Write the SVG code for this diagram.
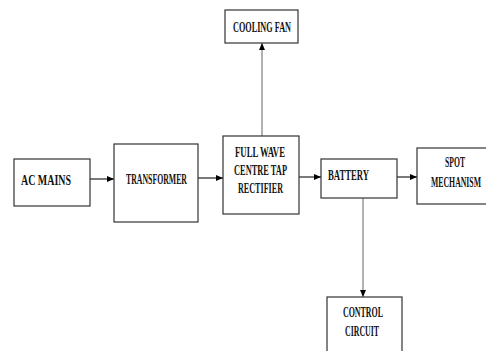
<svg xmlns="http://www.w3.org/2000/svg" width="486" height="351" viewBox="0 0 486 351">
<style>
.box{fill:#fff;stroke:#333;stroke-width:1.2}
.t{font-family:"Liberation Serif","Times New Roman",serif;font-weight:bold;fill:#111;font-size:14px}
.c{stroke:#222;stroke-width:1.2;fill:none}
.g{stroke:#999;stroke-width:1.5;fill:none}
</style>
<defs>
<marker id="ah" markerWidth="7" markerHeight="6" refX="7" refY="3" orient="auto" markerUnits="userSpaceOnUse">
<path d="M0,0 L7,3 L0,6 Z" fill="#000"/>
</marker>
</defs>
<rect width="486" height="351" fill="#fff"/>
<g id="connectors">
<line class="c" x1="90" y1="179" x2="114" y2="179" marker-end="url(#ah)"/>
<line class="c" x1="198" y1="178" x2="223" y2="178" marker-end="url(#ah)"/>
<line class="c" x1="299" y1="177" x2="321" y2="177" marker-end="url(#ah)"/>
<line class="c" x1="397" y1="177" x2="417" y2="177" marker-end="url(#ah)"/>
<line class="g" x1="262" y1="136" x2="262" y2="43" marker-end="url(#ah)"/>
<line class="g" x1="363" y1="198" x2="363" y2="297" marker-end="url(#ah)"/>
</g>
<g id="ac-mains">
<rect class="box" x="14" y="159" width="76" height="47"/>
<text class="t" x="21" y="185" font-size="19" textLength="50" lengthAdjust="spacingAndGlyphs">AC MAINS</text>
</g>
<g id="transformer">
<rect class="box" x="114" y="144" width="84" height="78"/>
<text class="t" x="126" y="184" font-size="12.5" textLength="61" lengthAdjust="spacingAndGlyphs">TRANSFORMER</text>
</g>
<g id="rectifier">
<rect class="box" x="223" y="136" width="76" height="78"/>
<text class="t" x="235" y="157" textLength="50" lengthAdjust="spacingAndGlyphs">FULL WAVE</text>
<text class="t" x="234" y="175" textLength="53" lengthAdjust="spacingAndGlyphs">CENTRE TAP</text>
<text class="t" x="238" y="193" textLength="45" lengthAdjust="spacingAndGlyphs">RECTIFIER</text>
</g>
<g id="cooling-fan">
<rect class="box" x="225" y="10" width="73" height="33"/>
<text class="t" x="233" y="32" textLength="58" lengthAdjust="spacingAndGlyphs">COOLING FAN</text>
</g>
<g id="battery">
<rect class="box" x="321" y="159" width="76" height="39"/>
<text class="t" x="328" y="180" textLength="41" lengthAdjust="spacingAndGlyphs">BATTERY</text>
</g>
<g id="spot-mechanism">
<rect class="box" x="417" y="148" width="72" height="56"/>
<text class="t" x="445" y="167" textLength="20" lengthAdjust="spacingAndGlyphs">SPOT</text>
<text class="t" x="431" y="187" textLength="50" lengthAdjust="spacingAndGlyphs">MECHANISM</text>
</g>
<g id="control-circuit">
<rect class="box" x="327" y="297" width="75" height="60"/>
<text class="t" x="343" y="317" textLength="40" lengthAdjust="spacingAndGlyphs">CONTROL</text>
<text class="t" x="345" y="336" textLength="34" lengthAdjust="spacingAndGlyphs">CIRCUIT</text>
</g>
</svg>
